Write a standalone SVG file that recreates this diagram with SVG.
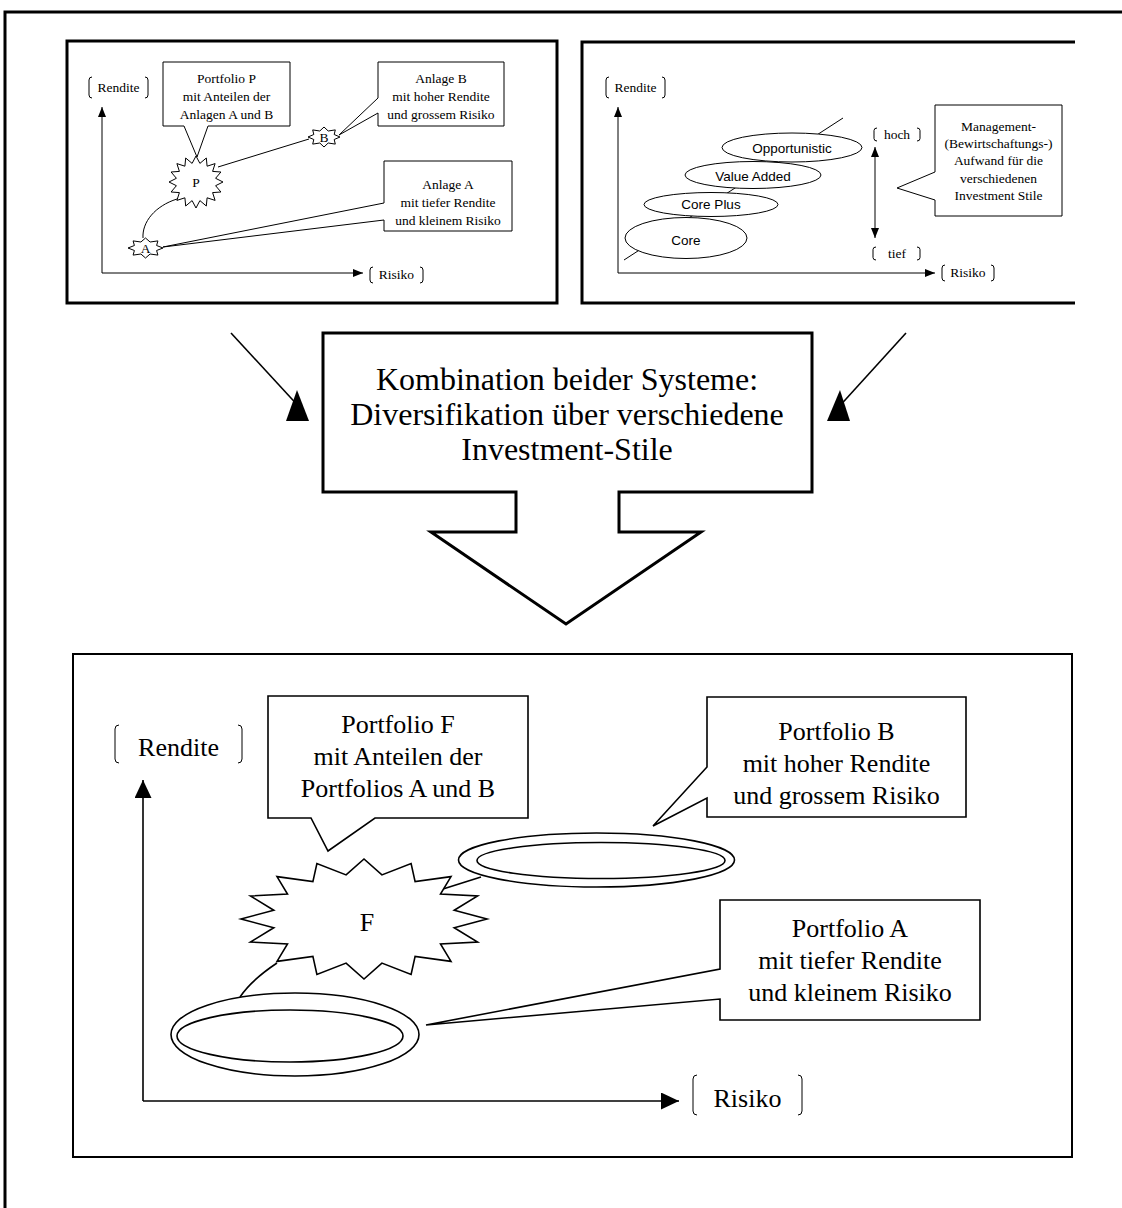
<svg xmlns="http://www.w3.org/2000/svg" width="1122" height="1208" viewBox="0 0 1122 1208">
<style>
.frame{fill:none;stroke:#000;stroke-width:3}
.thin{fill:#fff;stroke:#000;stroke-width:1}
.ln{fill:none;stroke:#000;stroke-width:1}
.ln2{fill:none;stroke:#000;stroke-width:1.6}
.sh2{fill:#fff;stroke:#000;stroke-width:1.6}
.s{font-family:"Liberation Serif","Times New Roman",serif;fill:#000;text-anchor:middle}
.a{font-family:"Liberation Sans",Arial,sans-serif;fill:#000;text-anchor:middle}
.f13{font-size:13.5px}
.f26{font-size:26px}
.f30{font-size:32px}
</style>
<defs>
<marker id="arrS" markerUnits="userSpaceOnUse" markerWidth="10" markerHeight="8" refX="10" refY="4" orient="auto-start-reverse">
<path d="M0,0 L10,4 L0,8 Z" fill="#000"/>
</marker>
<marker id="arrL" markerUnits="userSpaceOnUse" markerWidth="18" markerHeight="17" refX="18" refY="8.5" orient="auto">
<path d="M0,0 L18,8.5 L0,17 Z" fill="#000"/>
</marker>
</defs>
<rect width="1122" height="1208" fill="#fff"/>

<!-- outer frame -->
<path class="frame" d="M5,1208 V12 H1122"/>

<!-- top-left panel -->
<g id="panel-left">
<rect class="frame" x="67" y="41" width="490" height="262"/>
<path class="ln" d="M92,77 Q89,77 89,80 V95 Q89,98 92,98 M145,77 Q148,77 148,80 V95 Q148,98 145,98"/>
<text class="s f13" x="118.5" y="92">Rendite</text>
<path class="ln" d="M373,267 Q370,267 370,270 V280 Q370,283 373,283 M420,267 Q423,267 423,270 V280 Q423,283 420,283"/>
<text class="s f13" x="396.5" y="279">Risiko</text>
</g>
<g id="axes-left">
<path class="ln" d="M102,273 V107" marker-end="url(#arrS)"/>
<path class="ln" d="M102,273 H363" marker-end="url(#arrS)"/>
</g>
<g id="links-left">
<path class="ln" d="M218,167 L309,139"/>
<path class="ln" d="M143,238 C142,222 155,206 177,199"/>
</g>
<g id="callout-P">
<path class="thin" d="M163,62 H290 V126 H208 L197,157 L184,126 H163 Z"/>
<text class="s f13" x="226.5" y="83">Portfolio P</text>
<text class="s f13" x="226.5" y="101">mit Anteilen der</text>
<text class="s f13" x="226.5" y="119">Anlagen A und B</text>
</g>
<g id="callout-B-small">
<path class="thin" d="M378,62 H504 V126 H378 V113 L339,135 L378,98 Z"/>
<text class="s f13" x="441" y="83">Anlage B</text>
<text class="s f13" x="441" y="101">mit hoher Rendite</text>
<text class="s f13" x="441" y="119">und grossem Risiko</text>
</g>
<g id="callout-A-small">
<path class="thin" d="M384,161 H512 V231 H384 V220 L163,247 L384,203 Z"/>
<text class="s f13" x="448" y="189">Anlage A</text>
<text class="s f13" x="448" y="207">mit tiefer Rendite</text>
<text class="s f13" x="448" y="225">und kleinem Risiko</text>
</g>
<g id="star-P">
<polygon class="thin" points="223,182 215.6,185.7 220.9,192 212.6,192.6 215.1,200.4 207.1,197.8 206.3,206 199.9,200.6 196,208 192.1,200.6 185.7,206 184.9,197.8 176.9,200.4 179.4,192.6 171.1,192 176.4,185.7 169,182 176.4,178.3 171.1,172 179.4,171.4 176.9,163.6 184.9,166.2 185.7,158 192.1,163.4 196,156 199.9,163.4 206.3,158 207.1,166.2 215.1,163.6 212.6,171.4 220.9,172 215.6,178.3"/>
<text class="s f13" x="196" y="187">P</text>
</g>
<g id="star-A">
<polygon class="thin" points="163,248 156.6,250.5 157.9,255.1 150.1,254 145.5,258 140.9,254 133.1,255.1 134.4,250.5 128,248 134.4,245.5 133.1,240.9 140.9,242 145.5,238 150.1,242 157.9,240.9 156.6,245.5"/>
<text class="s f13" x="145.5" y="252.5">A</text>
</g>
<g id="star-B">
<polygon class="thin" points="340,137 334.2,139.5 335.3,144.1 328.2,143 324,147 319.8,143 312.7,144.1 313.8,139.5 308,137 313.8,134.5 312.7,129.9 319.8,131 324,127 328.2,131 335.3,129.9 334.2,134.5"/>
<text class="s f13" x="324" y="141.5">B</text>
</g>

<!-- top-right panel -->
<g id="panel-right">
<path class="frame" d="M1075,42 H582 V303 H1075"/>
<path class="ln" d="M609,77 Q606,77 606,80 V95 Q606,98 609,98 M662,77 Q665,77 665,80 V95 Q665,98 662,98"/>
<text class="s f13" x="635.5" y="92">Rendite</text>
<path class="ln" d="M945,265 Q942,265 942,268 V278 Q942,281 945,281 M991,265 Q994,265 994,268 V278 Q994,281 991,281"/>
<text class="s f13" x="968" y="277">Risiko</text>
<path class="ln" d="M877,128 Q874,128 874,130.5 V138.5 Q874,141 877,141 M917,128 Q920,128 920,130.5 V138.5 Q920,141 917,141"/>
<text class="s f13" x="897" y="139">hoch</text>
<path class="ln" d="M876,247 Q873,247 873,249.5 V257.5 Q873,260 876,260 M917,247 Q920,247 920,249.5 V257.5 Q920,260 917,260"/>
<text class="s f13" x="897" y="258">tief</text>
</g>
<g id="axes-right">
<path class="ln" d="M618,273 V107" marker-end="url(#arrS)"/>
<path class="ln" d="M618,273 H935" marker-end="url(#arrS)"/>
<path class="ln" d="M875,147 V238" marker-start="url(#arrS)" marker-end="url(#arrS)"/>
<path class="ln" d="M624,260 L843,118"/>
</g>
<g id="style-core">
<ellipse class="thin" cx="686" cy="238" rx="61" ry="20.5"/>
<text class="a f13" x="686" y="245">Core</text>
</g>
<g id="style-coreplus">
<ellipse class="thin" cx="711" cy="204.5" rx="67" ry="12"/>
<text class="a f13" x="711" y="209">Core Plus</text>
</g>
<g id="style-valueadded">
<ellipse class="thin" cx="753" cy="175" rx="68" ry="13.5"/>
<text class="a f13" x="753" y="181">Value Added</text>
</g>
<g id="style-opportunistic">
<ellipse class="thin" cx="792" cy="147.5" rx="70" ry="14.5"/>
<text class="a f13" x="792" y="153">Opportunistic</text>
</g>
<g id="callout-management">
<path class="thin" d="M935,105 H1062 V216 H935 V200 L897,188 L935,172 Z"/>
<text class="s f13" x="998.5" y="131">Management-</text>
<text class="s f13" x="998.5" y="148">(Bewirtschaftungs-)</text>
<text class="s f13" x="998.5" y="165">Aufwand für die</text>
<text class="s f13" x="998.5" y="183">verschiedenen</text>
<text class="s f13" x="998.5" y="200">Investment Stile</text>
</g>

<!-- middle -->
<g id="connectors">
<path class="ln2" d="M231,333 L302,410"/>
<polygon points="286,421 309,421 297,390" fill="#000"/>
<path class="ln2" d="M906,333 L836,410"/>
<polygon points="827,421 850,421 840,390" fill="#000"/>
</g>
<g id="combination">
<path fill="#fff" stroke="#000" stroke-width="3" d="M323,333 H812 V492 H619 V532 H701 L566,624 L431,532 H516 V492 H323 Z"/>
<text class="s f30" x="567" y="390">Kombination beider Systeme:</text>
<text class="s f30" x="567" y="425">Diversifikation über verschiedene</text>
<text class="s f30" x="567" y="460">Investment-Stile</text>
</g>

<!-- bottom panel -->
<g id="panel-bottom">
<rect fill="none" stroke="#000" stroke-width="2" x="73" y="654" width="999" height="503"/>
<path class="ln" d="M119,725 Q115,725 115,729 V759 Q115,763 119,763 M238,725 Q242,725 242,729 V759 Q242,763 238,763"/>
<text class="s f26" x="178.5" y="756">Rendite</text>
<path class="ln" d="M697,1075 Q693,1075 693,1079 V1111 Q693,1115 697,1115 M798,1075 Q802,1075 802,1079 V1111 Q802,1115 798,1115"/>
<text class="s f26" x="747.5" y="1107">Risiko</text>
</g>
<g id="axes-bottom">
<path class="ln2" d="M143,1101 V780" marker-end="url(#arrL)"/>
<path class="ln2" d="M143,1101 H679" marker-end="url(#arrL)"/>
<path class="ln2" d="M277,963 C262,973 248,985 240,997"/>
<path class="ln2" d="M443,889 L481,877"/>
</g>
<g id="callout-F">
<path class="sh2" d="M268,696 H528 V818 H375 L328,851 L311,818 H268 Z"/>
<text class="s f26" x="398" y="733">Portfolio F</text>
<text class="s f26" x="398" y="765">mit Anteilen der</text>
<text class="s f26" x="398" y="797">Portfolios A und B</text>
</g>
<g id="callout-B">
<path class="sh2" d="M707,697 H966 V817 H707 V798 L653,826 L707,767 Z"/>
<text class="s f26" x="836.5" y="740">Portfolio B</text>
<text class="s f26" x="836.5" y="772">mit hoher Rendite</text>
<text class="s f26" x="836.5" y="804">und grossem Risiko</text>
</g>
<g id="callout-A">
<path class="sh2" d="M720,900 H980 V1020 H720 V999 L426,1025 L720,969 Z"/>
<text class="s f26" x="850" y="937">Portfolio A</text>
<text class="s f26" x="850" y="969">mit tiefer Rendite</text>
<text class="s f26" x="850" y="1001">und kleinem Risiko</text>
</g>
<g id="star-F">
<polygon class="sh2" points="487,919 454.2,927.8 477.6,942 440.5,944 451,961.4 415.1,956.4 411.1,974.4 381.9,963.1 364,979 346.1,963.1 316.9,974.4 312.9,956.4 277,961.4 287.5,944 250.4,942 273.8,927.8 241,919 273.8,910.2 250.4,896 287.5,894 277,876.6 312.9,881.6 316.9,863.6 346.1,874.9 364,859 381.9,874.9 411.1,863.6 415.1,881.6 451,876.6 440.5,894 477.6,896 454.2,910.2"/>
<text class="s f26" x="367" y="931">F</text>
</g>
<g id="ellipse-B">
<ellipse class="sh2" cx="596.5" cy="860" rx="138" ry="27"/>
<ellipse class="sh2" cx="601" cy="860.5" rx="124" ry="18"/>
</g>
<g id="ellipse-A">
<ellipse class="sh2" cx="295" cy="1034.5" rx="124" ry="41.5"/>
<ellipse class="sh2" cx="290" cy="1036" rx="113" ry="26"/>
</g>
</svg>
